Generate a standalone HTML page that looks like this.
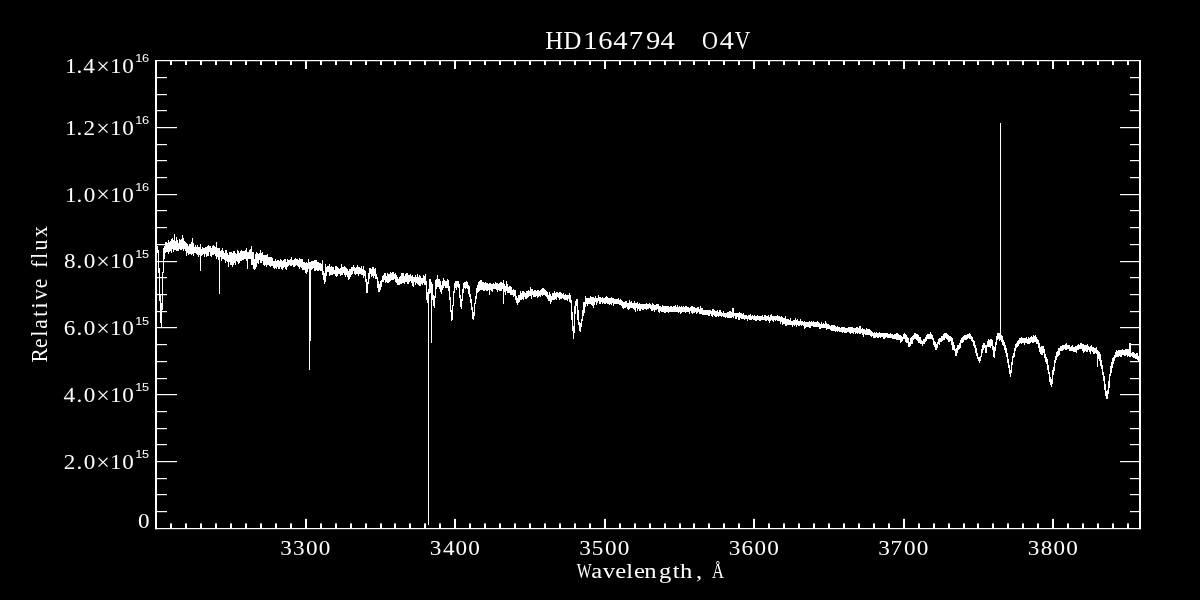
<!DOCTYPE html>
<html lang="en"><head><meta charset="utf-8"><title>HD164794 O4V</title>
<style>html,body{margin:0;padding:0;background:#000;}body{width:1200px;height:600px;overflow:hidden;}svg{display:block;}text{fill:#fff;font-family:"Liberation Serif",serif;}.ex{font-family:"Liberation Sans",sans-serif;}</style></head><body>
<svg width="1200" height="600" viewBox="0 0 1200 600">
<rect x="0" y="0" width="1200" height="600" fill="#000"/>
<g fill="#fff" stroke="none">
<rect x="155.0" y="60" width="986.0" height="1.2"/>
<rect x="155.0" y="528" width="986.0" height="1.2"/>
<rect x="155" y="60.0" width="2" height="469.2"/>
<rect x="1139" y="60.0" width="2" height="469.2"/>
<rect x="170" y="523.4" width="2" height="5.0"/>
<rect x="170" y="60.0" width="2" height="5.0"/>
<rect x="185" y="523.4" width="2" height="5.0"/>
<rect x="185" y="60.0" width="2" height="5.0"/>
<rect x="200" y="523.4" width="2" height="5.0"/>
<rect x="200" y="60.0" width="2" height="5.0"/>
<rect x="215" y="523.4" width="2" height="5.0"/>
<rect x="215" y="60.0" width="2" height="5.0"/>
<rect x="230" y="523.4" width="2" height="5.0"/>
<rect x="230" y="60.0" width="2" height="5.0"/>
<rect x="245" y="523.4" width="2" height="5.0"/>
<rect x="245" y="60.0" width="2" height="5.0"/>
<rect x="260" y="523.4" width="2" height="5.0"/>
<rect x="260" y="60.0" width="2" height="5.0"/>
<rect x="275" y="523.4" width="2" height="5.0"/>
<rect x="275" y="60.0" width="2" height="5.0"/>
<rect x="290" y="523.4" width="2" height="5.0"/>
<rect x="290" y="60.0" width="2" height="5.0"/>
<rect x="305" y="518.9" width="2" height="9.5"/>
<rect x="305" y="60.0" width="2" height="9.0"/>
<rect x="320" y="523.4" width="2" height="5.0"/>
<rect x="320" y="60.0" width="2" height="5.0"/>
<rect x="335" y="523.4" width="2" height="5.0"/>
<rect x="335" y="60.0" width="2" height="5.0"/>
<rect x="350" y="523.4" width="2" height="5.0"/>
<rect x="350" y="60.0" width="2" height="5.0"/>
<rect x="365" y="523.4" width="2" height="5.0"/>
<rect x="365" y="60.0" width="2" height="5.0"/>
<rect x="380" y="523.4" width="2" height="5.0"/>
<rect x="380" y="60.0" width="2" height="5.0"/>
<rect x="394" y="523.4" width="2" height="5.0"/>
<rect x="394" y="60.0" width="2" height="5.0"/>
<rect x="409" y="523.4" width="2" height="5.0"/>
<rect x="409" y="60.0" width="2" height="5.0"/>
<rect x="424" y="523.4" width="2" height="5.0"/>
<rect x="424" y="60.0" width="2" height="5.0"/>
<rect x="439" y="523.4" width="2" height="5.0"/>
<rect x="439" y="60.0" width="2" height="5.0"/>
<rect x="454" y="518.9" width="2" height="9.5"/>
<rect x="454" y="60.0" width="2" height="9.0"/>
<rect x="469" y="523.4" width="2" height="5.0"/>
<rect x="469" y="60.0" width="2" height="5.0"/>
<rect x="484" y="523.4" width="2" height="5.0"/>
<rect x="484" y="60.0" width="2" height="5.0"/>
<rect x="499" y="523.4" width="2" height="5.0"/>
<rect x="499" y="60.0" width="2" height="5.0"/>
<rect x="514" y="523.4" width="2" height="5.0"/>
<rect x="514" y="60.0" width="2" height="5.0"/>
<rect x="529" y="523.4" width="2" height="5.0"/>
<rect x="529" y="60.0" width="2" height="5.0"/>
<rect x="544" y="523.4" width="2" height="5.0"/>
<rect x="544" y="60.0" width="2" height="5.0"/>
<rect x="559" y="523.4" width="2" height="5.0"/>
<rect x="559" y="60.0" width="2" height="5.0"/>
<rect x="574" y="523.4" width="2" height="5.0"/>
<rect x="574" y="60.0" width="2" height="5.0"/>
<rect x="589" y="523.4" width="2" height="5.0"/>
<rect x="589" y="60.0" width="2" height="5.0"/>
<rect x="604" y="518.9" width="2" height="9.5"/>
<rect x="604" y="60.0" width="2" height="9.0"/>
<rect x="619" y="523.4" width="2" height="5.0"/>
<rect x="619" y="60.0" width="2" height="5.0"/>
<rect x="634" y="523.4" width="2" height="5.0"/>
<rect x="634" y="60.0" width="2" height="5.0"/>
<rect x="649" y="523.4" width="2" height="5.0"/>
<rect x="649" y="60.0" width="2" height="5.0"/>
<rect x="664" y="523.4" width="2" height="5.0"/>
<rect x="664" y="60.0" width="2" height="5.0"/>
<rect x="679" y="523.4" width="2" height="5.0"/>
<rect x="679" y="60.0" width="2" height="5.0"/>
<rect x="693" y="523.4" width="2" height="5.0"/>
<rect x="693" y="60.0" width="2" height="5.0"/>
<rect x="708" y="523.4" width="2" height="5.0"/>
<rect x="708" y="60.0" width="2" height="5.0"/>
<rect x="723" y="523.4" width="2" height="5.0"/>
<rect x="723" y="60.0" width="2" height="5.0"/>
<rect x="738" y="523.4" width="2" height="5.0"/>
<rect x="738" y="60.0" width="2" height="5.0"/>
<rect x="753" y="518.9" width="2" height="9.5"/>
<rect x="753" y="60.0" width="2" height="9.0"/>
<rect x="768" y="523.4" width="2" height="5.0"/>
<rect x="768" y="60.0" width="2" height="5.0"/>
<rect x="783" y="523.4" width="2" height="5.0"/>
<rect x="783" y="60.0" width="2" height="5.0"/>
<rect x="798" y="523.4" width="2" height="5.0"/>
<rect x="798" y="60.0" width="2" height="5.0"/>
<rect x="813" y="523.4" width="2" height="5.0"/>
<rect x="813" y="60.0" width="2" height="5.0"/>
<rect x="828" y="523.4" width="2" height="5.0"/>
<rect x="828" y="60.0" width="2" height="5.0"/>
<rect x="843" y="523.4" width="2" height="5.0"/>
<rect x="843" y="60.0" width="2" height="5.0"/>
<rect x="858" y="523.4" width="2" height="5.0"/>
<rect x="858" y="60.0" width="2" height="5.0"/>
<rect x="873" y="523.4" width="2" height="5.0"/>
<rect x="873" y="60.0" width="2" height="5.0"/>
<rect x="888" y="523.4" width="2" height="5.0"/>
<rect x="888" y="60.0" width="2" height="5.0"/>
<rect x="903" y="518.9" width="2" height="9.5"/>
<rect x="903" y="60.0" width="2" height="9.0"/>
<rect x="918" y="523.4" width="2" height="5.0"/>
<rect x="918" y="60.0" width="2" height="5.0"/>
<rect x="933" y="523.4" width="2" height="5.0"/>
<rect x="933" y="60.0" width="2" height="5.0"/>
<rect x="948" y="523.4" width="2" height="5.0"/>
<rect x="948" y="60.0" width="2" height="5.0"/>
<rect x="963" y="523.4" width="2" height="5.0"/>
<rect x="963" y="60.0" width="2" height="5.0"/>
<rect x="977" y="523.4" width="2" height="5.0"/>
<rect x="977" y="60.0" width="2" height="5.0"/>
<rect x="992" y="523.4" width="2" height="5.0"/>
<rect x="992" y="60.0" width="2" height="5.0"/>
<rect x="1007" y="523.4" width="2" height="5.0"/>
<rect x="1007" y="60.0" width="2" height="5.0"/>
<rect x="1022" y="523.4" width="2" height="5.0"/>
<rect x="1022" y="60.0" width="2" height="5.0"/>
<rect x="1037" y="523.4" width="2" height="5.0"/>
<rect x="1037" y="60.0" width="2" height="5.0"/>
<rect x="1052" y="518.9" width="2" height="9.5"/>
<rect x="1052" y="60.0" width="2" height="9.0"/>
<rect x="1067" y="523.4" width="2" height="5.0"/>
<rect x="1067" y="60.0" width="2" height="5.0"/>
<rect x="1082" y="523.4" width="2" height="5.0"/>
<rect x="1082" y="60.0" width="2" height="5.0"/>
<rect x="1097" y="523.4" width="2" height="5.0"/>
<rect x="1097" y="60.0" width="2" height="5.0"/>
<rect x="1112" y="523.4" width="2" height="5.0"/>
<rect x="1112" y="60.0" width="2" height="5.0"/>
<rect x="1127" y="523.4" width="2" height="5.0"/>
<rect x="1127" y="60.0" width="2" height="5.0"/>
<rect x="156.0" y="511" width="11.0" height="1.2"/>
<rect x="1130.0" y="511" width="10.0" height="1.2"/>
<rect x="156.0" y="494" width="11.0" height="1.2"/>
<rect x="1130.0" y="494" width="10.0" height="1.2"/>
<rect x="156.0" y="478" width="11.0" height="1.2"/>
<rect x="1130.0" y="478" width="10.0" height="1.2"/>
<rect x="156.0" y="461" width="21.0" height="1.2"/>
<rect x="1120.0" y="461" width="20.0" height="1.2"/>
<rect x="156.0" y="444" width="11.0" height="1.2"/>
<rect x="1130.0" y="444" width="10.0" height="1.2"/>
<rect x="156.0" y="428" width="11.0" height="1.2"/>
<rect x="1130.0" y="428" width="10.0" height="1.2"/>
<rect x="156.0" y="411" width="11.0" height="1.2"/>
<rect x="1130.0" y="411" width="10.0" height="1.2"/>
<rect x="156.0" y="394" width="21.0" height="1.2"/>
<rect x="1120.0" y="394" width="20.0" height="1.2"/>
<rect x="156.0" y="378" width="11.0" height="1.2"/>
<rect x="1130.0" y="378" width="10.0" height="1.2"/>
<rect x="156.0" y="361" width="11.0" height="1.2"/>
<rect x="1130.0" y="361" width="10.0" height="1.2"/>
<rect x="156.0" y="344" width="11.0" height="1.2"/>
<rect x="1130.0" y="344" width="10.0" height="1.2"/>
<rect x="156.0" y="327" width="21.0" height="1.2"/>
<rect x="1120.0" y="327" width="20.0" height="1.2"/>
<rect x="156.0" y="311" width="11.0" height="1.2"/>
<rect x="1130.0" y="311" width="10.0" height="1.2"/>
<rect x="156.0" y="294" width="11.0" height="1.2"/>
<rect x="1130.0" y="294" width="10.0" height="1.2"/>
<rect x="156.0" y="277" width="11.0" height="1.2"/>
<rect x="1130.0" y="277" width="10.0" height="1.2"/>
<rect x="156.0" y="261" width="21.0" height="1.2"/>
<rect x="1120.0" y="261" width="20.0" height="1.2"/>
<rect x="156.0" y="244" width="11.0" height="1.2"/>
<rect x="1130.0" y="244" width="10.0" height="1.2"/>
<rect x="156.0" y="227" width="11.0" height="1.2"/>
<rect x="1130.0" y="227" width="10.0" height="1.2"/>
<rect x="156.0" y="210" width="11.0" height="1.2"/>
<rect x="1130.0" y="210" width="10.0" height="1.2"/>
<rect x="156.0" y="194" width="21.0" height="1.2"/>
<rect x="1120.0" y="194" width="20.0" height="1.2"/>
<rect x="156.0" y="177" width="11.0" height="1.2"/>
<rect x="1130.0" y="177" width="10.0" height="1.2"/>
<rect x="156.0" y="160" width="11.0" height="1.2"/>
<rect x="1130.0" y="160" width="10.0" height="1.2"/>
<rect x="156.0" y="144" width="11.0" height="1.2"/>
<rect x="1130.0" y="144" width="10.0" height="1.2"/>
<rect x="156.0" y="127" width="21.0" height="1.2"/>
<rect x="1120.0" y="127" width="20.0" height="1.2"/>
<rect x="156.0" y="110" width="11.0" height="1.2"/>
<rect x="1130.0" y="110" width="10.0" height="1.2"/>
<rect x="156.0" y="94" width="11.0" height="1.2"/>
<rect x="1130.0" y="94" width="10.0" height="1.2"/>
<rect x="156.0" y="77" width="11.0" height="1.2"/>
<rect x="1130.0" y="77" width="10.0" height="1.2"/>
</g>
<path d="M157 246h1v7h-1zM158 250h1v23h-1zM159 268h1v33h-1zM160 295h1v28h-1zM161 303h1v24h-1zM162 272h1v38h-1zM163 248h1v25h-1zM164 246h1v13h-1zM165 242h1v11h-1zM166 242h1v10h-1zM167 243h1v9h-1zM168 240h1v14h-1zM169 242h1v10h-1zM170 241h1v10h-1zM171 239h1v14h-1zM172 238h1v11h-1zM173 240h1v12h-1zM174 234h1v16h-1zM175 241h1v9h-1zM176 237h1v14h-1zM177 240h1v11h-1zM178 243h1v8h-1zM179 239h1v10h-1zM180 240h1v10h-1zM181 239h1v11h-1zM182 235h1v14h-1zM183 238h1v13h-1zM184 241h1v8h-1zM185 242h1v9h-1zM186 243h1v13h-1zM187 244h1v9h-1zM188 246h1v9h-1zM189 244h1v10h-1zM190 244h1v10h-1zM191 242h1v13h-1zM192 238h1v16h-1zM193 243h1v13h-1zM194 247h1v6h-1zM195 245h1v8h-1zM196 247h1v7h-1zM197 245h1v10h-1zM198 247h1v10h-1zM199 247h1v8h-1zM200 244h1v27h-1zM201 249h1v7h-1zM202 247h1v8h-1zM203 248h1v6h-1zM204 248h1v9h-1zM205 247h1v7h-1zM206 247h1v10h-1zM207 246h1v10h-1zM208 245h1v11h-1zM209 246h1v6h-1zM210 246h1v10h-1zM211 248h1v9h-1zM212 246h1v9h-1zM213 245h1v10h-1zM214 246h1v8h-1zM215 247h1v9h-1zM216 242h1v17h-1zM217 248h1v9h-1zM218 248h1v12h-1zM219 248h1v46h-1zM220 251h1v6h-1zM221 250h1v11h-1zM222 248h1v11h-1zM223 251h1v8h-1zM224 253h1v7h-1zM225 250h1v13h-1zM226 250h1v11h-1zM227 253h1v9h-1zM228 255h1v12h-1zM229 252h1v10h-1zM230 252h1v13h-1zM231 252h1v13h-1zM232 253h1v14h-1zM233 251h1v14h-1zM234 251h1v12h-1zM235 253h1v12h-1zM236 254h1v7h-1zM237 250h1v12h-1zM238 251h1v13h-1zM239 253h1v10h-1zM240 251h1v10h-1zM241 250h1v11h-1zM242 251h1v9h-1zM243 251h1v9h-1zM244 251h1v8h-1zM245 250h1v9h-1zM246 248h1v13h-1zM247 252h1v17h-1zM248 252h1v7h-1zM249 250h1v9h-1zM250 249h1v10h-1zM251 246h1v19h-1zM252 252h1v13h-1zM253 252h1v17h-1zM254 259h1v11h-1zM255 254h1v15h-1zM256 252h1v15h-1zM257 253h1v10h-1zM258 254h1v10h-1zM259 253h1v7h-1zM260 250h1v13h-1zM261 253h1v10h-1zM262 252h1v9h-1zM263 255h1v10h-1zM264 255h1v11h-1zM265 255h1v10h-1zM266 255h1v12h-1zM267 254h1v11h-1zM268 257h1v8h-1zM269 257h1v9h-1zM270 257h1v10h-1zM271 257h1v9h-1zM272 258h1v8h-1zM273 261h1v7h-1zM274 261h1v8h-1zM275 259h1v9h-1zM276 261h1v8h-1zM277 260h1v7h-1zM278 260h1v9h-1zM279 261h1v8h-1zM280 259h1v8h-1zM281 260h1v9h-1zM282 261h1v9h-1zM283 260h1v8h-1zM284 259h1v8h-1zM285 259h1v10h-1zM286 262h1v8h-1zM287 259h1v8h-1zM288 260h1v6h-1zM289 260h1v5h-1zM290 259h1v7h-1zM291 257h1v9h-1zM292 260h1v5h-1zM293 260h1v7h-1zM294 259h1v8h-1zM295 258h1v8h-1zM296 259h1v6h-1zM297 259h1v7h-1zM298 260h1v7h-1zM299 258h1v11h-1zM300 259h1v8h-1zM301 259h1v9h-1zM302 259h1v11h-1zM303 262h1v8h-1zM304 262h1v8h-1zM305 263h1v10h-1zM306 262h1v12h-1zM307 263h1v9h-1zM308 259h1v10h-1zM309 262h1v108h-1zM310 262h1v79h-1zM311 261h1v9h-1zM312 261h1v8h-1zM313 261h1v7h-1zM314 260h1v11h-1zM315 260h1v11h-1zM316 260h1v10h-1zM317 262h1v9h-1zM318 262h1v9h-1zM319 263h1v7h-1zM320 263h1v8h-1zM321 264h1v7h-1zM322 260h1v15h-1zM323 271h1v9h-1zM324 273h1v11h-1zM325 264h1v18h-1zM326 267h1v9h-1zM327 266h1v6h-1zM328 266h1v6h-1zM329 264h1v12h-1zM330 267h1v8h-1zM331 266h1v9h-1zM332 267h1v8h-1zM333 267h1v7h-1zM334 270h1v4h-1zM335 266h1v10h-1zM336 266h1v11h-1zM337 267h1v9h-1zM338 268h1v6h-1zM339 269h1v5h-1zM340 268h1v8h-1zM341 264h1v11h-1zM342 267h1v8h-1zM343 267h1v6h-1zM344 266h1v9h-1zM345 267h1v10h-1zM346 268h1v7h-1zM347 269h1v8h-1zM348 271h1v9h-1zM349 269h1v10h-1zM350 269h1v8h-1zM351 267h1v8h-1zM352 267h1v7h-1zM353 265h1v6h-1zM354 267h1v7h-1zM355 268h1v7h-1zM356 267h1v7h-1zM357 265h1v9h-1zM358 267h1v9h-1zM359 267h1v7h-1zM360 268h1v6h-1zM361 266h1v9h-1zM362 269h1v6h-1zM363 266h1v12h-1zM364 270h1v6h-1zM365 271h1v11h-1zM366 279h1v14h-1zM367 282h1v11h-1zM368 273h1v11h-1zM369 268h1v11h-1zM370 268h1v6h-1zM371 269h1v8h-1zM372 267h1v9h-1zM373 267h1v11h-1zM374 269h1v7h-1zM375 268h1v11h-1zM376 274h1v5h-1zM377 277h1v11h-1zM378 281h1v11h-1zM379 284h1v8h-1zM380 281h1v9h-1zM381 280h1v7h-1zM382 276h1v6h-1zM383 275h1v7h-1zM384 273h1v7h-1zM385 273h1v10h-1zM386 276h1v6h-1zM387 273h1v10h-1zM388 274h1v9h-1zM389 274h1v8h-1zM390 272h1v9h-1zM391 273h1v7h-1zM392 272h1v8h-1zM393 272h1v8h-1zM394 274h1v5h-1zM395 273h1v9h-1zM396 275h1v8h-1zM397 277h1v8h-1zM398 279h1v6h-1zM399 277h1v8h-1zM400 276h1v8h-1zM401 273h1v11h-1zM402 273h1v10h-1zM403 273h1v10h-1zM404 276h1v8h-1zM405 274h1v8h-1zM406 273h1v9h-1zM407 273h1v11h-1zM408 275h1v9h-1zM409 275h1v7h-1zM410 274h1v7h-1zM411 276h1v7h-1zM412 275h1v11h-1zM413 277h1v10h-1zM414 277h1v5h-1zM415 275h1v10h-1zM416 277h1v6h-1zM417 274h1v10h-1zM418 277h1v8h-1zM419 275h1v11h-1zM420 276h1v10h-1zM421 278h1v6h-1zM422 278h1v7h-1zM423 275h1v8h-1zM424 276h1v9h-1zM425 274h1v11h-1zM426 281h1v19h-1zM427 292h1v11h-1zM428 289h1v236h-1zM429 279h1v15h-1zM430 279h1v14h-1zM431 282h1v61h-1zM432 284h1v16h-1zM433 295h1v11h-1zM434 296h1v12h-1zM435 280h1v18h-1zM436 279h1v10h-1zM437 275h1v12h-1zM438 279h1v8h-1zM439 279h1v10h-1zM440 281h1v11h-1zM441 285h1v9h-1zM442 281h1v9h-1zM443 278h1v10h-1zM444 280h1v6h-1zM445 281h1v7h-1zM446 281h1v7h-1zM447 279h1v9h-1zM448 280h1v11h-1zM449 286h1v14h-1zM450 297h1v15h-1zM451 310h1v11h-1zM452 305h1v15h-1zM453 291h1v15h-1zM454 283h1v10h-1zM455 281h1v7h-1zM456 281h1v9h-1zM457 281h1v6h-1zM458 281h1v7h-1zM459 284h1v14h-1zM460 295h1v12h-1zM461 299h1v10h-1zM462 289h1v12h-1zM463 283h1v10h-1zM464 282h1v6h-1zM465 282h1v7h-1zM466 281h1v7h-1zM467 282h1v7h-1zM468 285h1v9h-1zM469 286h1v11h-1zM470 294h1v9h-1zM471 299h1v11h-1zM472 307h1v12h-1zM473 312h1v8h-1zM474 303h1v13h-1zM475 296h1v8h-1zM476 288h1v11h-1zM477 285h1v8h-1zM478 282h1v10h-1zM479 281h1v10h-1zM480 280h1v10h-1zM481 280h1v10h-1zM482 282h1v8h-1zM483 282h1v9h-1zM484 283h1v8h-1zM485 282h1v8h-1zM486 283h1v8h-1zM487 283h1v8h-1zM488 284h1v6h-1zM489 283h1v12h-1zM490 283h1v7h-1zM491 284h1v7h-1zM492 284h1v8h-1zM493 283h1v6h-1zM494 284h1v5h-1zM495 282h1v7h-1zM496 283h1v7h-1zM497 283h1v9h-1zM498 284h1v6h-1zM499 283h1v8h-1zM500 282h1v9h-1zM501 282h1v9h-1zM502 283h1v6h-1zM503 280h1v24h-1zM504 284h1v8h-1zM505 286h1v9h-1zM506 281h1v10h-1zM507 284h1v9h-1zM508 287h1v6h-1zM509 286h1v7h-1zM510 286h1v9h-1zM511 287h1v8h-1zM512 290h1v5h-1zM513 289h1v8h-1zM514 290h1v6h-1zM515 290h1v10h-1zM516 296h1v7h-1zM517 298h1v7h-1zM518 295h1v8h-1zM519 295h1v7h-1zM520 291h1v9h-1zM521 293h1v7h-1zM522 291h1v8h-1zM523 291h1v9h-1zM524 292h1v5h-1zM525 293h1v6h-1zM526 291h1v8h-1zM527 291h1v7h-1zM528 290h1v7h-1zM529 291h1v5h-1zM530 287h1v9h-1zM531 289h1v10h-1zM532 289h1v6h-1zM533 291h1v6h-1zM534 290h1v7h-1zM535 290h1v7h-1zM536 291h1v5h-1zM537 290h1v8h-1zM538 290h1v7h-1zM539 291h1v5h-1zM540 290h1v7h-1zM541 289h1v6h-1zM542 288h1v8h-1zM543 288h1v7h-1zM544 289h1v6h-1zM545 290h1v6h-1zM546 291h1v6h-1zM547 292h1v7h-1zM548 295h1v6h-1zM549 292h1v9h-1zM550 294h1v10h-1zM551 296h1v6h-1zM552 293h1v7h-1zM553 293h1v7h-1zM554 291h1v9h-1zM555 293h1v6h-1zM556 292h1v8h-1zM557 292h1v5h-1zM558 293h1v5h-1zM559 292h1v8h-1zM560 292h1v7h-1zM561 293h1v6h-1zM562 294h1v4h-1zM563 293h1v6h-1zM564 295h1v5h-1zM565 294h1v6h-1zM566 295h1v5h-1zM567 295h1v6h-1zM568 295h1v4h-1zM569 293h1v9h-1zM570 295h1v8h-1zM571 300h1v20h-1zM572 312h1v19h-1zM573 326h1v13h-1zM574 306h1v27h-1zM575 301h1v13h-1zM576 299h1v7h-1zM577 299h1v21h-1zM578 310h1v15h-1zM579 322h1v9h-1zM580 323h1v9h-1zM581 319h1v8h-1zM582 310h1v11h-1zM583 302h1v14h-1zM584 302h1v11h-1zM585 296h1v11h-1zM586 298h1v6h-1zM587 298h1v8h-1zM588 298h1v6h-1zM589 298h1v6h-1zM590 296h1v8h-1zM591 297h1v8h-1zM592 297h1v9h-1zM593 297h1v11h-1zM594 298h1v7h-1zM595 296h1v6h-1zM596 298h1v7h-1zM597 298h1v5h-1zM598 295h1v6h-1zM599 297h1v7h-1zM600 297h1v7h-1zM601 298h1v4h-1zM602 297h1v7h-1zM603 298h1v5h-1zM604 298h1v6h-1zM605 297h1v7h-1zM606 296h1v7h-1zM607 297h1v7h-1zM608 298h1v6h-1zM609 298h1v7h-1zM610 298h1v6h-1zM611 297h1v8h-1zM612 298h1v5h-1zM613 298h1v8h-1zM614 299h1v5h-1zM615 299h1v5h-1zM616 299h1v5h-1zM617 299h1v5h-1zM618 298h1v6h-1zM619 300h1v5h-1zM620 299h1v6h-1zM621 300h1v6h-1zM622 301h1v7h-1zM623 302h1v7h-1zM624 302h1v6h-1zM625 301h1v7h-1zM626 301h1v6h-1zM627 303h1v6h-1zM628 303h1v7h-1zM629 300h1v9h-1zM630 302h1v6h-1zM631 301h1v7h-1zM632 303h1v5h-1zM633 303h1v6h-1zM634 301h1v9h-1zM635 303h1v9h-1zM636 303h1v5h-1zM637 302h1v9h-1zM638 304h1v5h-1zM639 303h1v8h-1zM640 304h1v7h-1zM641 304h1v5h-1zM642 304h1v6h-1zM643 304h1v6h-1zM644 304h1v5h-1zM645 304h1v5h-1zM646 303h1v7h-1zM647 304h1v5h-1zM648 304h1v5h-1zM649 303h1v5h-1zM650 304h1v5h-1zM651 305h1v6h-1zM652 303h1v8h-1zM653 304h1v6h-1zM654 305h1v7h-1zM655 305h1v5h-1zM656 304h1v6h-1zM657 304h1v5h-1zM658 304h1v8h-1zM659 306h1v7h-1zM660 306h1v5h-1zM661 307h1v5h-1zM662 305h1v7h-1zM663 306h1v6h-1zM664 306h1v7h-1zM665 306h1v7h-1zM666 306h1v6h-1zM667 306h1v6h-1zM668 306h1v7h-1zM669 307h1v5h-1zM670 306h1v6h-1zM671 306h1v6h-1zM672 307h1v5h-1zM673 306h1v6h-1zM674 306h1v6h-1zM675 305h1v7h-1zM676 307h1v5h-1zM677 305h1v7h-1zM678 307h1v6h-1zM679 306h1v6h-1zM680 307h1v7h-1zM681 306h1v7h-1zM682 307h1v5h-1zM683 306h1v6h-1zM684 307h1v5h-1zM685 306h1v7h-1zM686 306h1v6h-1zM687 307h1v5h-1zM688 307h1v5h-1zM689 308h1v6h-1zM690 307h1v4h-1zM691 306h1v7h-1zM692 306h1v8h-1zM693 307h1v6h-1zM694 307h1v6h-1zM695 308h1v4h-1zM696 308h1v6h-1zM697 307h1v6h-1zM698 307h1v5h-1zM699 309h1v5h-1zM700 306h1v8h-1zM701 308h1v6h-1zM702 308h1v7h-1zM703 310h1v5h-1zM704 310h1v5h-1zM705 310h1v5h-1zM706 310h1v5h-1zM707 310h1v5h-1zM708 310h1v6h-1zM709 310h1v6h-1zM710 310h1v4h-1zM711 311h1v5h-1zM712 309h1v8h-1zM713 309h1v6h-1zM714 310h1v6h-1zM715 311h1v6h-1zM716 311h1v6h-1zM717 310h1v6h-1zM718 312h1v5h-1zM719 310h1v6h-1zM720 310h1v6h-1zM721 312h1v5h-1zM722 313h1v3h-1zM723 311h1v6h-1zM724 313h1v4h-1zM725 313h1v5h-1zM726 313h1v4h-1zM727 312h1v6h-1zM728 312h1v6h-1zM729 311h1v7h-1zM730 311h1v7h-1zM731 312h1v6h-1zM732 308h1v9h-1zM733 308h1v10h-1zM734 313h1v3h-1zM735 313h1v6h-1zM736 313h1v6h-1zM737 313h1v4h-1zM738 313h1v7h-1zM739 312h1v8h-1zM740 313h1v5h-1zM741 313h1v6h-1zM742 314h1v5h-1zM743 313h1v6h-1zM744 315h1v5h-1zM745 315h1v4h-1zM746 315h1v4h-1zM747 316h1v5h-1zM748 315h1v4h-1zM749 315h1v5h-1zM750 314h1v6h-1zM751 316h1v4h-1zM752 315h1v4h-1zM753 316h1v4h-1zM754 315h1v5h-1zM755 316h1v5h-1zM756 316h1v5h-1zM757 315h1v5h-1zM758 316h1v4h-1zM759 316h1v5h-1zM760 316h1v5h-1zM761 316h1v4h-1zM762 315h1v5h-1zM763 317h1v3h-1zM764 315h1v5h-1zM765 315h1v6h-1zM766 316h1v5h-1zM767 316h1v4h-1zM768 315h1v6h-1zM769 317h1v6h-1zM770 315h1v6h-1zM771 314h1v6h-1zM772 316h1v5h-1zM773 316h1v6h-1zM774 316h1v4h-1zM775 316h1v5h-1zM776 316h1v4h-1zM777 315h1v6h-1zM778 316h1v5h-1zM779 316h1v5h-1zM780 317h1v7h-1zM781 316h1v6h-1zM782 317h1v8h-1zM783 318h1v6h-1zM784 318h1v6h-1zM785 316h1v10h-1zM786 319h1v7h-1zM787 319h1v6h-1zM788 319h1v6h-1zM789 320h1v5h-1zM790 318h1v7h-1zM791 321h1v4h-1zM792 321h1v6h-1zM793 320h1v5h-1zM794 320h1v6h-1zM795 318h1v7h-1zM796 320h1v7h-1zM797 319h1v6h-1zM798 321h1v5h-1zM799 321h1v5h-1zM800 319h1v6h-1zM801 321h1v5h-1zM802 321h1v4h-1zM803 322h1v4h-1zM804 321h1v8h-1zM805 322h1v6h-1zM806 322h1v5h-1zM807 322h1v5h-1zM808 322h1v5h-1zM809 321h1v7h-1zM810 322h1v6h-1zM811 321h1v5h-1zM812 322h1v4h-1zM813 321h1v6h-1zM814 322h1v5h-1zM815 322h1v5h-1zM816 322h1v5h-1zM817 321h1v6h-1zM818 322h1v5h-1zM819 323h1v6h-1zM820 324h1v5h-1zM821 322h1v6h-1zM822 324h1v4h-1zM823 323h1v5h-1zM824 324h1v4h-1zM825 321h1v7h-1zM826 323h1v7h-1zM827 324h1v5h-1zM828 324h1v5h-1zM829 325h1v4h-1zM830 326h1v4h-1zM831 325h1v6h-1zM832 325h1v6h-1zM833 325h1v6h-1zM834 325h1v6h-1zM835 326h1v6h-1zM836 327h1v4h-1zM837 326h1v6h-1zM838 327h1v4h-1zM839 327h1v5h-1zM840 328h1v4h-1zM841 327h1v5h-1zM842 327h1v6h-1zM843 327h1v5h-1zM844 327h1v6h-1zM845 328h1v5h-1zM846 328h1v5h-1zM847 328h1v4h-1zM848 327h1v5h-1zM849 327h1v6h-1zM850 327h1v7h-1zM851 327h1v6h-1zM852 327h1v6h-1zM853 328h1v6h-1zM854 328h1v4h-1zM855 328h1v6h-1zM856 327h1v6h-1zM857 327h1v7h-1zM858 328h1v5h-1zM859 326h1v8h-1zM860 326h1v8h-1zM861 329h1v4h-1zM862 328h1v7h-1zM863 329h1v8h-1zM864 329h1v5h-1zM865 330h1v5h-1zM866 328h1v7h-1zM867 329h1v6h-1zM868 329h1v6h-1zM869 329h1v6h-1zM870 330h1v6h-1zM871 331h1v6h-1zM872 332h1v4h-1zM873 333h1v5h-1zM874 332h1v6h-1zM875 333h1v5h-1zM876 332h1v5h-1zM877 333h1v5h-1zM878 333h1v5h-1zM879 332h1v5h-1zM880 333h1v5h-1zM881 333h1v4h-1zM882 333h1v4h-1zM883 333h1v6h-1zM884 333h1v6h-1zM885 333h1v5h-1zM886 333h1v4h-1zM887 333h1v5h-1zM888 334h1v4h-1zM889 334h1v4h-1zM890 333h1v5h-1zM891 334h1v4h-1zM892 334h1v5h-1zM893 335h1v4h-1zM894 334h1v5h-1zM895 334h1v5h-1zM896 333h1v7h-1zM897 333h1v7h-1zM898 334h1v6h-1zM899 335h1v5h-1zM900 335h1v8h-1zM901 336h1v6h-1zM902 337h1v4h-1zM903 334h1v5h-1zM904 333h1v6h-1zM905 334h1v8h-1zM906 335h1v8h-1zM907 337h1v6h-1zM908 338h1v9h-1zM909 342h1v5h-1zM910 338h1v8h-1zM911 337h1v7h-1zM912 336h1v8h-1zM913 335h1v5h-1zM914 333h1v6h-1zM915 333h1v6h-1zM916 334h1v6h-1zM917 334h1v7h-1zM918 335h1v8h-1zM919 337h1v6h-1zM920 337h1v7h-1zM921 340h1v4h-1zM922 341h1v5h-1zM923 339h1v5h-1zM924 339h1v5h-1zM925 337h1v5h-1zM926 335h1v6h-1zM927 334h1v5h-1zM928 334h1v5h-1zM929 334h1v5h-1zM930 332h1v7h-1zM931 334h1v5h-1zM932 335h1v5h-1zM933 338h1v7h-1zM934 341h1v6h-1zM935 342h1v8h-1zM936 344h1v6h-1zM937 342h1v6h-1zM938 339h1v5h-1zM939 338h1v7h-1zM940 338h1v4h-1zM941 336h1v6h-1zM942 336h1v5h-1zM943 334h1v6h-1zM944 333h1v7h-1zM945 333h1v5h-1zM946 333h1v6h-1zM947 334h1v6h-1zM948 335h1v7h-1zM949 336h1v6h-1zM950 336h1v5h-1zM951 337h1v8h-1zM952 338h1v12h-1zM953 342h1v8h-1zM954 345h1v6h-1zM955 349h1v7h-1zM956 348h1v8h-1zM957 345h1v8h-1zM958 345h1v5h-1zM959 343h1v6h-1zM960 340h1v8h-1zM961 338h1v5h-1zM962 337h1v6h-1zM963 336h1v6h-1zM964 335h1v5h-1zM965 335h1v5h-1zM966 335h1v5h-1zM967 334h1v5h-1zM968 334h1v4h-1zM969 333h1v6h-1zM970 334h1v5h-1zM971 336h1v5h-1zM972 337h1v5h-1zM973 340h1v6h-1zM974 341h1v7h-1zM975 345h1v8h-1zM976 348h1v8h-1zM977 353h1v6h-1zM978 357h1v4h-1zM979 357h1v6h-1zM980 356h1v5h-1zM981 349h1v8h-1zM982 345h1v8h-1zM983 343h1v7h-1zM984 343h1v5h-1zM985 345h1v8h-1zM986 345h1v8h-1zM987 341h1v6h-1zM988 339h1v8h-1zM989 340h1v7h-1zM990 339h1v9h-1zM991 339h1v7h-1zM992 340h1v10h-1zM993 346h1v11h-1zM994 347h1v11h-1zM995 342h1v9h-1zM996 336h1v9h-1zM997 333h1v7h-1zM998 333h1v6h-1zM999 333h1v8h-1zM1000 123h1v217h-1zM1001 335h1v7h-1zM1002 336h1v9h-1zM1003 340h1v6h-1zM1004 342h1v8h-1zM1005 345h1v8h-1zM1006 348h1v9h-1zM1007 353h1v10h-1zM1008 359h1v9h-1zM1009 365h1v9h-1zM1010 370h1v7h-1zM1011 362h1v11h-1zM1012 356h1v9h-1zM1013 353h1v5h-1zM1014 348h1v9h-1zM1015 344h1v7h-1zM1016 343h1v5h-1zM1017 341h1v6h-1zM1018 340h1v6h-1zM1019 338h1v6h-1zM1020 338h1v5h-1zM1021 337h1v7h-1zM1022 338h1v5h-1zM1023 338h1v5h-1zM1024 338h1v7h-1zM1025 338h1v5h-1zM1026 337h1v6h-1zM1027 339h1v5h-1zM1028 337h1v7h-1zM1029 338h1v6h-1zM1030 337h1v6h-1zM1031 336h1v6h-1zM1032 337h1v6h-1zM1033 335h1v8h-1zM1034 336h1v6h-1zM1035 335h1v7h-1zM1036 337h1v7h-1zM1037 339h1v5h-1zM1038 340h1v8h-1zM1039 343h1v9h-1zM1040 347h1v7h-1zM1041 346h1v9h-1zM1042 346h1v9h-1zM1043 346h1v7h-1zM1044 349h1v9h-1zM1045 354h1v8h-1zM1046 357h1v7h-1zM1047 359h1v11h-1zM1048 365h1v9h-1zM1049 372h1v10h-1zM1050 377h1v8h-1zM1051 379h1v8h-1zM1052 370h1v14h-1zM1053 367h1v8h-1zM1054 360h1v11h-1zM1055 356h1v7h-1zM1056 352h1v8h-1zM1057 351h1v6h-1zM1058 348h1v8h-1zM1059 348h1v7h-1zM1060 346h1v5h-1zM1061 346h1v5h-1zM1062 345h1v6h-1zM1063 345h1v5h-1zM1064 345h1v4h-1zM1065 344h1v6h-1zM1066 343h1v7h-1zM1067 345h1v4h-1zM1068 345h1v4h-1zM1069 345h1v6h-1zM1070 347h1v4h-1zM1071 346h1v5h-1zM1072 345h1v6h-1zM1073 347h1v5h-1zM1074 347h1v5h-1zM1075 346h1v6h-1zM1076 346h1v7h-1zM1077 345h1v5h-1zM1078 344h1v6h-1zM1079 345h1v4h-1zM1080 343h1v6h-1zM1081 343h1v6h-1zM1082 344h1v7h-1zM1083 344h1v9h-1zM1084 345h1v7h-1zM1085 345h1v6h-1zM1086 345h1v7h-1zM1087 344h1v8h-1zM1088 346h1v4h-1zM1089 347h1v5h-1zM1090 346h1v8h-1zM1091 345h1v6h-1zM1092 347h1v5h-1zM1093 347h1v7h-1zM1094 348h1v6h-1zM1095 348h1v5h-1zM1096 347h1v7h-1zM1097 350h1v17h-1zM1098 351h1v8h-1zM1099 352h1v9h-1zM1100 354h1v12h-1zM1101 360h1v9h-1zM1102 365h1v10h-1zM1103 372h1v9h-1zM1104 376h1v14h-1zM1105 384h1v12h-1zM1106 391h1v8h-1zM1107 390h1v9h-1zM1108 381h1v13h-1zM1109 374h1v14h-1zM1110 366h1v10h-1zM1111 362h1v11h-1zM1112 358h1v10h-1zM1113 357h1v7h-1zM1114 355h1v6h-1zM1115 352h1v6h-1zM1116 350h1v7h-1zM1117 351h1v6h-1zM1118 350h1v7h-1zM1119 350h1v6h-1zM1120 350h1v7h-1zM1121 350h1v7h-1zM1122 349h1v6h-1zM1123 350h1v5h-1zM1124 350h1v6h-1zM1125 349h1v7h-1zM1126 349h1v6h-1zM1127 349h1v8h-1zM1128 349h1v7h-1zM1129 343h1v14h-1zM1130 343h1v14h-1zM1131 353h1v3h-1zM1132 352h1v5h-1zM1133 352h1v6h-1zM1134 353h1v5h-1zM1135 354h1v5h-1zM1136 353h1v6h-1zM1137 353h1v7h-1zM1138 356h1v5h-1zM1139 354h1v6h-1z" fill="#fff" stroke="none" shape-rendering="crispEdges"/>
<text y="554.75" font-size="20.5"><tspan x="280.31" textLength="11.58" lengthAdjust="spacingAndGlyphs">3</tspan><tspan x="293.06" textLength="11.58" lengthAdjust="spacingAndGlyphs">3</tspan><tspan x="306.05" textLength="11.58" lengthAdjust="spacingAndGlyphs">0</tspan><tspan x="318.80" textLength="11.58" lengthAdjust="spacingAndGlyphs">0</tspan></text>
<text y="554.75" font-size="20.5"><tspan x="429.80" textLength="11.58" lengthAdjust="spacingAndGlyphs">3</tspan><tspan x="442.95" textLength="11.58" lengthAdjust="spacingAndGlyphs">4</tspan><tspan x="455.54" textLength="11.58" lengthAdjust="spacingAndGlyphs">0</tspan><tspan x="468.29" textLength="11.58" lengthAdjust="spacingAndGlyphs">0</tspan></text>
<text y="554.75" font-size="20.5"><tspan x="579.29" textLength="11.58" lengthAdjust="spacingAndGlyphs">3</tspan><tspan x="591.81" textLength="11.58" lengthAdjust="spacingAndGlyphs">5</tspan><tspan x="605.03" textLength="11.58" lengthAdjust="spacingAndGlyphs">0</tspan><tspan x="617.78" textLength="11.58" lengthAdjust="spacingAndGlyphs">0</tspan></text>
<text y="554.75" font-size="20.5"><tspan x="728.78" textLength="11.58" lengthAdjust="spacingAndGlyphs">3</tspan><tspan x="741.53" textLength="11.58" lengthAdjust="spacingAndGlyphs">6</tspan><tspan x="754.52" textLength="11.58" lengthAdjust="spacingAndGlyphs">0</tspan><tspan x="767.27" textLength="11.58" lengthAdjust="spacingAndGlyphs">0</tspan></text>
<text y="554.75" font-size="20.5"><tspan x="878.27" textLength="11.58" lengthAdjust="spacingAndGlyphs">3</tspan><tspan x="890.56" textLength="11.58" lengthAdjust="spacingAndGlyphs">7</tspan><tspan x="904.01" textLength="11.58" lengthAdjust="spacingAndGlyphs">0</tspan><tspan x="916.76" textLength="11.58" lengthAdjust="spacingAndGlyphs">0</tspan></text>
<text y="554.75" font-size="20.5"><tspan x="1027.76" textLength="11.58" lengthAdjust="spacingAndGlyphs">3</tspan><tspan x="1040.75" textLength="11.58" lengthAdjust="spacingAndGlyphs">8</tspan><tspan x="1053.50" textLength="11.58" lengthAdjust="spacingAndGlyphs">0</tspan><tspan x="1066.25" textLength="11.58" lengthAdjust="spacingAndGlyphs">0</tspan></text>
<text y="468.83" font-size="20.5"><tspan x="63.67" textLength="11.58" lengthAdjust="spacingAndGlyphs" y="468.83">2</tspan><tspan x="76.61" textLength="5.79" lengthAdjust="spacingAndGlyphs" y="468.83">.</tspan><tspan x="83.71" textLength="11.58" lengthAdjust="spacingAndGlyphs" y="468.83">0</tspan><tspan x="96.32" textLength="13.54" lengthAdjust="spacingAndGlyphs" y="469.73" font-size="24">×</tspan><tspan x="110.05" textLength="11.58" lengthAdjust="spacingAndGlyphs" y="468.83">1</tspan><tspan x="122.21" textLength="11.58" lengthAdjust="spacingAndGlyphs" y="468.83">0</tspan><tspan x="135.31" textLength="7.09" lengthAdjust="spacingAndGlyphs" y="458.23" font-size="11.8" class="ex">1</tspan><tspan x="142.09" textLength="7.09" lengthAdjust="spacingAndGlyphs" y="458.23" font-size="11.8" class="ex">5</tspan></text>
<text y="402.01" font-size="20.5"><tspan x="63.57" textLength="11.58" lengthAdjust="spacingAndGlyphs" y="402.01">4</tspan><tspan x="76.61" textLength="5.79" lengthAdjust="spacingAndGlyphs" y="402.01">.</tspan><tspan x="83.71" textLength="11.58" lengthAdjust="spacingAndGlyphs" y="402.01">0</tspan><tspan x="96.32" textLength="13.54" lengthAdjust="spacingAndGlyphs" y="402.91" font-size="24">×</tspan><tspan x="110.05" textLength="11.58" lengthAdjust="spacingAndGlyphs" y="402.01">1</tspan><tspan x="122.21" textLength="11.58" lengthAdjust="spacingAndGlyphs" y="402.01">0</tspan><tspan x="135.31" textLength="7.09" lengthAdjust="spacingAndGlyphs" y="391.41" font-size="11.8" class="ex">1</tspan><tspan x="142.09" textLength="7.09" lengthAdjust="spacingAndGlyphs" y="391.41" font-size="11.8" class="ex">5</tspan></text>
<text y="335.19" font-size="20.5"><tspan x="63.67" textLength="11.58" lengthAdjust="spacingAndGlyphs" y="335.19">6</tspan><tspan x="76.61" textLength="5.79" lengthAdjust="spacingAndGlyphs" y="335.19">.</tspan><tspan x="83.71" textLength="11.58" lengthAdjust="spacingAndGlyphs" y="335.19">0</tspan><tspan x="96.32" textLength="13.54" lengthAdjust="spacingAndGlyphs" y="336.09" font-size="24">×</tspan><tspan x="110.05" textLength="11.58" lengthAdjust="spacingAndGlyphs" y="335.19">1</tspan><tspan x="122.21" textLength="11.58" lengthAdjust="spacingAndGlyphs" y="335.19">0</tspan><tspan x="135.31" textLength="7.09" lengthAdjust="spacingAndGlyphs" y="324.59" font-size="11.8" class="ex">1</tspan><tspan x="142.09" textLength="7.09" lengthAdjust="spacingAndGlyphs" y="324.59" font-size="11.8" class="ex">5</tspan></text>
<text y="268.36" font-size="20.5"><tspan x="63.91" textLength="11.58" lengthAdjust="spacingAndGlyphs" y="268.36">8</tspan><tspan x="76.61" textLength="5.79" lengthAdjust="spacingAndGlyphs" y="268.36">.</tspan><tspan x="83.71" textLength="11.58" lengthAdjust="spacingAndGlyphs" y="268.36">0</tspan><tspan x="96.32" textLength="13.54" lengthAdjust="spacingAndGlyphs" y="269.26" font-size="24">×</tspan><tspan x="110.05" textLength="11.58" lengthAdjust="spacingAndGlyphs" y="268.36">1</tspan><tspan x="122.21" textLength="11.58" lengthAdjust="spacingAndGlyphs" y="268.36">0</tspan><tspan x="135.31" textLength="7.09" lengthAdjust="spacingAndGlyphs" y="257.76" font-size="11.8" class="ex">1</tspan><tspan x="142.09" textLength="7.09" lengthAdjust="spacingAndGlyphs" y="257.76" font-size="11.8" class="ex">5</tspan></text>
<text y="201.54" font-size="20.5"><tspan x="65.05" textLength="11.58" lengthAdjust="spacingAndGlyphs" y="201.54">1</tspan><tspan x="76.61" textLength="5.79" lengthAdjust="spacingAndGlyphs" y="201.54">.</tspan><tspan x="83.71" textLength="11.58" lengthAdjust="spacingAndGlyphs" y="201.54">0</tspan><tspan x="96.32" textLength="13.54" lengthAdjust="spacingAndGlyphs" y="202.44" font-size="24">×</tspan><tspan x="110.05" textLength="11.58" lengthAdjust="spacingAndGlyphs" y="201.54">1</tspan><tspan x="122.21" textLength="11.58" lengthAdjust="spacingAndGlyphs" y="201.54">0</tspan><tspan x="135.31" textLength="7.09" lengthAdjust="spacingAndGlyphs" y="190.94" font-size="11.8" class="ex">1</tspan><tspan x="141.96" textLength="7.09" lengthAdjust="spacingAndGlyphs" y="190.94" font-size="11.8" class="ex">6</tspan></text>
<text y="134.72" font-size="20.5"><tspan x="65.05" textLength="11.58" lengthAdjust="spacingAndGlyphs" y="134.72">1</tspan><tspan x="76.61" textLength="5.79" lengthAdjust="spacingAndGlyphs" y="134.72">.</tspan><tspan x="83.47" textLength="11.58" lengthAdjust="spacingAndGlyphs" y="134.72">2</tspan><tspan x="96.32" textLength="13.54" lengthAdjust="spacingAndGlyphs" y="135.62" font-size="24">×</tspan><tspan x="110.05" textLength="11.58" lengthAdjust="spacingAndGlyphs" y="134.72">1</tspan><tspan x="122.21" textLength="11.58" lengthAdjust="spacingAndGlyphs" y="134.72">0</tspan><tspan x="135.31" textLength="7.09" lengthAdjust="spacingAndGlyphs" y="124.12" font-size="11.8" class="ex">1</tspan><tspan x="141.96" textLength="7.09" lengthAdjust="spacingAndGlyphs" y="124.12" font-size="11.8" class="ex">6</tspan></text>
<text y="73.00" font-size="20.5"><tspan x="65.05" textLength="11.58" lengthAdjust="spacingAndGlyphs" y="73.00">1</tspan><tspan x="76.61" textLength="5.79" lengthAdjust="spacingAndGlyphs" y="73.00">.</tspan><tspan x="83.17" textLength="11.58" lengthAdjust="spacingAndGlyphs" y="73.00">4</tspan><tspan x="96.32" textLength="13.54" lengthAdjust="spacingAndGlyphs" y="73.90" font-size="24">×</tspan><tspan x="110.05" textLength="11.58" lengthAdjust="spacingAndGlyphs" y="73.00">1</tspan><tspan x="122.21" textLength="11.58" lengthAdjust="spacingAndGlyphs" y="73.00">0</tspan><tspan x="135.31" textLength="7.09" lengthAdjust="spacingAndGlyphs" y="62.40" font-size="11.8" class="ex">1</tspan><tspan x="141.96" textLength="7.09" lengthAdjust="spacingAndGlyphs" y="62.40" font-size="11.8" class="ex">6</tspan></text>
<text y="528.30" font-size="20.5"><tspan x="137.91" textLength="11.58" lengthAdjust="spacingAndGlyphs">0</tspan></text>
<text y="48.90" font-size="26"><tspan x="545.31" textLength="17.84" lengthAdjust="spacingAndGlyphs">H</tspan><tspan x="563.41" textLength="17.84" lengthAdjust="spacingAndGlyphs">D</tspan><tspan x="583.21" textLength="14.30" lengthAdjust="spacingAndGlyphs">1</tspan><tspan x="598.36" textLength="14.30" lengthAdjust="spacingAndGlyphs">6</tspan><tspan x="613.21" textLength="14.30" lengthAdjust="spacingAndGlyphs">4</tspan><tspan x="628.68" textLength="14.30" lengthAdjust="spacingAndGlyphs">7</tspan><tspan x="645.94" textLength="14.30" lengthAdjust="spacingAndGlyphs">9</tspan><tspan x="660.51" textLength="14.30" lengthAdjust="spacingAndGlyphs">4</tspan> <tspan x="701.92" textLength="15.96" lengthAdjust="spacingAndGlyphs">O</tspan><tspan x="719.72" textLength="14.04" lengthAdjust="spacingAndGlyphs">4</tspan><tspan x="734.69" textLength="15.40" lengthAdjust="spacingAndGlyphs">V</tspan></text>
<text y="577.70" font-size="20.5"><tspan x="576.70" textLength="14.90" lengthAdjust="spacingAndGlyphs">W</tspan><tspan x="591.26" textLength="10.92" lengthAdjust="spacingAndGlyphs">a</tspan><tspan x="602.70" textLength="12.30" lengthAdjust="spacingAndGlyphs">v</tspan><tspan x="615.26" textLength="10.92" lengthAdjust="spacingAndGlyphs">e</tspan><tspan x="626.21" textLength="6.83" lengthAdjust="spacingAndGlyphs">l</tspan><tspan x="633.96" textLength="10.92" lengthAdjust="spacingAndGlyphs">e</tspan><tspan x="644.21" textLength="12.30" lengthAdjust="spacingAndGlyphs">n</tspan><tspan x="659.02" textLength="12.30" lengthAdjust="spacingAndGlyphs">g</tspan><tspan x="672.70" textLength="6.83" lengthAdjust="spacingAndGlyphs">t</tspan><tspan x="680.00" textLength="12.30" lengthAdjust="spacingAndGlyphs">h</tspan><tspan x="695.96" textLength="6.15" lengthAdjust="spacingAndGlyphs">,</tspan> <tspan x="712.00" textLength="11.99" lengthAdjust="spacingAndGlyphs">Å</tspan></text>
<text transform="translate(47.3,362) rotate(-90) scale(1,1.06)" y="0.00" font-size="21.5"><tspan x="-0.43" textLength="14.34" lengthAdjust="spacingAndGlyphs">R</tspan><tspan x="14.05" textLength="9.54" lengthAdjust="spacingAndGlyphs">e</tspan><tspan x="25.57" textLength="5.97" lengthAdjust="spacingAndGlyphs">l</tspan><tspan x="33.35" textLength="9.54" lengthAdjust="spacingAndGlyphs">a</tspan><tspan x="45.30" textLength="5.97" lengthAdjust="spacingAndGlyphs">t</tspan><tspan x="53.57" textLength="5.97" lengthAdjust="spacingAndGlyphs">i</tspan><tspan x="62.00" textLength="10.75" lengthAdjust="spacingAndGlyphs">v</tspan><tspan x="73.66" textLength="9.54" lengthAdjust="spacingAndGlyphs">e</tspan> <tspan x="94.36" textLength="7.16" lengthAdjust="spacingAndGlyphs">f</tspan><tspan x="103.27" textLength="5.97" lengthAdjust="spacingAndGlyphs">l</tspan><tspan x="111.48" textLength="10.75" lengthAdjust="spacingAndGlyphs">u</tspan><tspan x="125.00" textLength="10.75" lengthAdjust="spacingAndGlyphs">x</tspan></text>
</svg></body></html>
